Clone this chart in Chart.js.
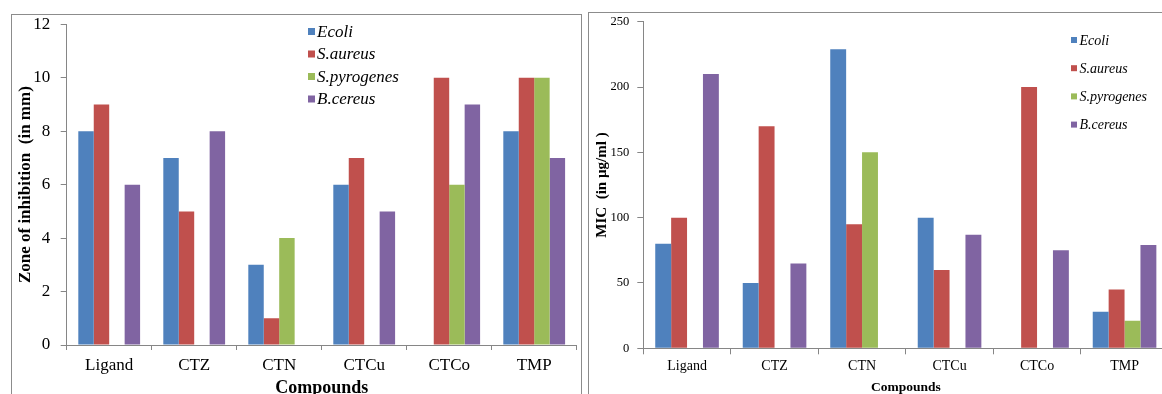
<!DOCTYPE html>
<html>
<head>
<meta charset="utf-8">
<script src="https://cdn.jsdelivr.net/npm/chart.js@4/dist/chart.umd.min.js"></script>
<style>
  html, body { margin:0; padding:0; background:#fff; }
  body { width:1162px; height:394px; overflow:hidden; position:relative; }
  .frame { position:absolute; border:1px solid #8c8c8c; box-sizing:border-box; }
  canvas { position:absolute; top:0; }
</style>
</head>
<body>
<div class="frame" style="left:11px; top:14px; width:571px; height:420px;"></div>
<div class="frame" style="left:588px; top:12px; width:620px; height:420px;"></div>
<canvas id="c1" width="585" height="410" style="left:0px; width:585px; height:410px;"></canvas>
<canvas id="c2" width="592" height="410" style="left:585px; width:592px; height:410px;"></canvas>
<script>
// ---- data ----
const categories = ['Ligand', 'CTZ', 'CTN', 'CTCu', 'CTCo', 'TMP'];
const seriesNames = ['Ecoli', 'S.aureus', 'S.pyrogenes', 'B.cereus'];
const seriesColors = ['#4F81BD', '#C0504D', '#9BBB59', '#8064A2'];

// Zone of inhibition (in mm)
const zoneEcoli      = [8, 7, 3, 6, 0, 8];
const zoneSaureus    = [9, 5, 1, 7, 10, 10];
const zoneSpyrogenes = [0, 0, 4, 0, 6, 10];
const zoneBcereus    = [6, 8, 0, 5, 9, 7];

// MIC (in µg/ml)
const micEcoli      = [80, 50, 229, 100, 0, 28];
const micSaureus    = [100, 170, 95, 60, 200, 45];
const micSpyrogenes = [0, 0, 150, 0, 0, 21];
const micBcereus    = [210, 65, 0, 87, 75, 79];

const zoneTicks = { min: 0, max: 12, step: 2 };
const micTicks  = { min: 0, max: 250, step: 50 };

const leftYTitle  = 'Zone of inhibition  (in mm)';
const rightYTitle = 'MIC  (in µg/ml )';
const xTitle = 'Compounds';

// ---- helpers ----
const SERIF = '"Liberation Serif", "Times New Roman", serif';
const AXIS = '#868686';

const customLegend = {
  id: 'customLegend',
  afterDraw(chart, args, opts) {
    const ctx = chart.ctx;
    ctx.save();
    ctx.font = 'italic ' + opts.size + 'px ' + SERIF;
    ctx.textBaseline = 'middle';
    ctx.textAlign = 'left';
    chart.data.datasets.forEach((ds, i) => {
      const cy = opts.y + i * opts.gap;
      ctx.fillStyle = ds.backgroundColor;
      ctx.fillRect(opts.x, cy - opts.box / 2, opts.box, opts.box);
      ctx.fillStyle = '#000';
      ctx.fillText(ds.label, opts.textX, cy + 1);
    });
    ctx.restore();
  }
};

function makeDatasets(arrs) {
  return arrs.map((a, i) => ({
    label: seriesNames[i],
    data: a,
    backgroundColor: seriesColors[i],
    borderWidth: 0,
    barPercentage: 1.0,
    categoryPercentage: 0.727
  }));
}

function makeChart(id, arrs, cfg) {
  return new Chart(document.getElementById(id), {
    type: 'bar',
    data: { labels: categories, datasets: makeDatasets(arrs) },
    options: {
      responsive: false,
      animation: false,
      devicePixelRatio: 1,
      layout: { padding: cfg.padding },
      plugins: {
        legend: { display: false },
        tooltip: { enabled: false },
        customLegend: cfg.legend
      },
      scales: {
        x: {
          grid: { display: true, drawOnChartArea: false, offset: true, tickLength: cfg.xTickLen, color: AXIS },
          border: { color: AXIS, width: 1 },
          ticks: { color: '#000', font: { family: SERIF, size: cfg.xFont }, padding: cfg.xPad, maxRotation: 0, autoSkip: false },
          title: { display: true, text: xTitle, color: '#000', font: { family: SERIF, size: cfg.xTitleFont, weight: 'bold' }, padding: { top: 0, bottom: cfg.xTitlePad } },
          afterFit: s => { s.height = cfg.xHeight; }
        },
        y: {
          min: cfg.ticks.min, max: cfg.ticks.max,
          grid: { display: true, drawOnChartArea: false, tickLength: cfg.yTickLen, color: AXIS },
          border: { color: AXIS, width: 1 },
          ticks: { stepSize: cfg.ticks.step, color: '#000', font: { family: SERIF, size: cfg.yFont }, padding: cfg.yPad },
          title: { display: true, text: cfg.yTitle, color: '#000', font: { family: SERIF, size: cfg.yTitleFont, weight: 'bold' }, padding: { top: cfg.yTitlePad, bottom: 0 } },
          afterFit: s => { s.width = cfg.yWidth; }
        }
      }
    },
    plugins: [customLegend]
  });
}

makeChart('c1', [zoneEcoli, zoneSaureus, zoneSpyrogenes, zoneBcereus], {
  padding: { left: 0, top: 24.3, right: 8.3, bottom: 0 },
  ticks: zoneTicks,
  yWidth: 66.7, yTickLen: 6, yPad: 10.5, yFont: 17,
  yTitle: leftYTitle, yTitleFont: 17, yTitlePad: 15.5,
  xHeight: 65, xTickLen: 5, xPad: 5.5, xFont: 17,
  xTitleFont: 18, xTitlePad: 11,
  legend: { x: 308, y: 31.5, gap: 22.5, box: 7, textX: 317, size: 17 }
});

makeChart('c2', [micEcoli, micSaureus, micSpyrogenes, micBcereus], {
  padding: { left: 0, top: 21.7, right: 8.7, bottom: 0 },
  ticks: micTicks,
  yWidth: 58.3, yTickLen: 6, yPad: 8, yFont: 12.5,
  yTitle: rightYTitle, yTitleFont: 15, yTitlePad: 7.7,
  xHeight: 61.7, xTickLen: 6, xPad: 4, xFont: 14,
  xTitleFont: 13.5, xTitlePad: 13.9,
  legend: { x: 486, y: 40, gap: 28.2, box: 6, textX: 494.5, size: 14 }
});
</script>
</body>
</html>
